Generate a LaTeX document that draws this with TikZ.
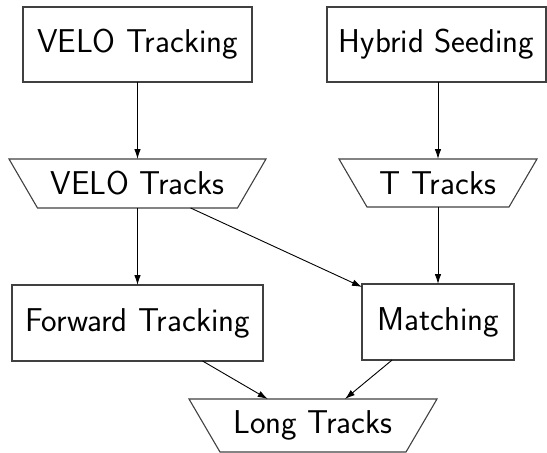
\RequirePackage{fix-cm}
\documentclass[tikz,border=0pt]{standalone}
\usetikzlibrary{arrows.meta}
\begin{document}
\begin{tikzpicture}[
    x=1pt, y=-1pt,
    every node/.style={font=\sffamily\fontsize{33}{39}\selectfont, outer sep=0pt, inner sep=0pt},
    procbox/.style={draw=black!75, line width=1.1pt, minimum width=#1, minimum height=75pt},
    dataslot/.style={minimum width=#1},
    outline/.style={draw=black!75, line width=1.1pt, line join=miter},
    flow/.style={draw=black, line width=0.9pt, -{Latex[length=10pt,width=6.5pt]}}
  ]
  \useasboundingbox (0,0) rectangle (547,453);

  % processing steps
  \node[procbox=229pt] (velotrk) at (137.5,44.5) {VELO Tracking};
  \node[procbox=219pt] (hybseed) at (436.5,44.5) {Hybrid Seeding};
  \node[procbox=251pt, minimum height=76pt] (fwdtrk) at (137.5,323) {Forward Tracking};
  \node[procbox=152pt, minimum height=76pt] (matching) at (438,322) {Matching};

  % track containers (inverted trapezia drawn around their text slots)
  \node[dataslot=257pt, minimum height=49pt] (velotracks) at (137.5,183.5) {VELO Tracks};
  \node[dataslot=198pt, minimum height=48pt] (ttracks) at (438,183) {T Tracks};
  \node[dataslot=248pt, minimum height=53pt] (longtracks) at (313,425.5) {Long Tracks};

  \draw[outline] (velotracks.north west) -- (velotracks.north east)
    -- ([xshift=-28.5pt]velotracks.south east) -- ([xshift=28.5pt]velotracks.south west) -- cycle;
  \draw[outline] (ttracks.north west) -- (ttracks.north east)
    -- ([xshift=-28pt]ttracks.south east) -- ([xshift=28pt]ttracks.south west) -- cycle;
  \draw[outline] (longtracks.north west) -- (longtracks.north east)
    -- ([xshift=-31pt]longtracks.south east) -- ([xshift=31pt]longtracks.south west) -- cycle;

  % data flow
  \draw[flow] (velotrk) -- (velotracks);
  \draw[flow] (hybseed.south -| ttracks.north) -- (ttracks);
  \draw[flow] (velotracks) -- (fwdtrk);
  \draw[flow] (velotracks) -- (matching);
  \draw[flow] (ttracks) -- (matching);
  \draw[flow] (fwdtrk) -- (longtracks);
  \draw[flow] (matching) -- (longtracks);
\end{tikzpicture}
\end{document}
